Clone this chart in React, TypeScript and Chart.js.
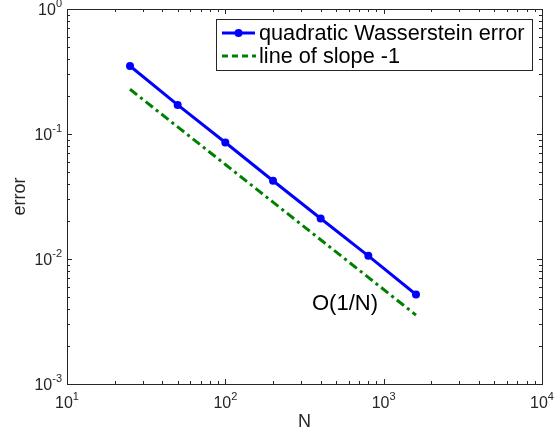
import React, { useEffect, useRef } from "react";
import { Chart, registerables } from "chart.js";

Chart.register(...registerables);

const N = [25, 50, 100, 200, 400, 800, 1600];
const wassersteinError = [0.35, 0.171, 0.0855, 0.0423, 0.0211, 0.0106, 0.0052];
const slopeLine = [0.228, 0.114, 0.057, 0.0285, 0.01425, 0.007125, 0.00356];
const xDecades = [1, 2, 3, 4];
const yDecades = [-3, -2, -1, 0];
const legendLabels = ["quadratic Wasserstein error", "line of slope -1"];
const annotation = "O(1/N)";
const FONT = '"Liberation Sans", Arial, Helvetica, sans-serif';
const AX = "#262626";

function drawPow(ctx: CanvasRenderingContext2D, exp: number, x: number, y: number, align: "right" | "center") {
  ctx.save();
  ctx.fillStyle = AX;
  ctx.textBaseline = "alphabetic";
  ctx.textAlign = "left";
  ctx.font = `16px ${FONT}`;
  const base = "10";
  const bw = ctx.measureText(base).width;
  ctx.font = `11px ${FONT}`;
  const es = String(exp);
  const ew = ctx.measureText(es).width;
  const total = bw + ew;
  const x0 = align === "right" ? x - total : x - total / 2;
  ctx.font = `16px ${FONT}`;
  ctx.fillText(base, x0, y);
  ctx.font = `11px ${FONT}`;
  ctx.fillText(es, x0 + bw, y - 8);
  ctx.restore();
}

const framePlugin = {
  id: "frame",
  afterDraw(chart: any) {
    const { ctx, chartArea: a, scales } = chart;
    const xs = scales.x;
    const ys = scales.y;
    ctx.save();
    ctx.strokeStyle = AX;
    ctx.lineWidth = 1;
    ctx.strokeRect(Math.round(a.left) + 0.5, Math.round(a.top) + 0.5, Math.round(a.right - a.left), Math.round(a.bottom - a.top));
    ctx.beginPath();
    for (let d = 1; d <= 4; d++) {
      for (let m = 1; m <= 9; m++) {
        if (d === 4 && m > 1) break;
        const v = m * Math.pow(10, d);
        const px = Math.round(xs.getPixelForValue(v)) + 0.5;
        const len = m === 1 ? 5 : 3;
        ctx.moveTo(px, a.bottom);
        ctx.lineTo(px, a.bottom - len);
        ctx.moveTo(px, a.top);
        ctx.lineTo(px, a.top + len);
      }
    }
    for (let d = -3; d <= 0; d++) {
      for (let m = 1; m <= 9; m++) {
        if (d === 0 && m > 1) break;
        const v = m * Math.pow(10, d);
        const py = Math.round(ys.getPixelForValue(v)) + 0.5;
        const len = m === 1 ? 5 : 3;
        ctx.moveTo(a.left, py);
        ctx.lineTo(a.left + len, py);
        ctx.moveTo(a.right, py);
        ctx.lineTo(a.right - len, py);
      }
    }
    ctx.stroke();
    ctx.restore();

    xDecades.forEach((d) => drawPow(ctx, d, xs.getPixelForValue(Math.pow(10, d)), a.bottom + 24, "center"));
    yDecades.forEach((d) => drawPow(ctx, d, a.left - 5, ys.getPixelForValue(Math.pow(10, d)) + 6, "right"));

    ctx.save();
    ctx.fillStyle = AX;
    ctx.font = `18px ${FONT}`;
    ctx.textAlign = "center";
    ctx.textBaseline = "middle";
    ctx.fillText("N", (a.left + a.right) / 2, 422);
    ctx.translate(20, (a.top + a.bottom) / 2);
    ctx.rotate(-Math.PI / 2);
    ctx.fillText("error", 0, 0);
    ctx.restore();

    // annotation
    ctx.save();
    ctx.fillStyle = "#000";
    ctx.font = `22px ${FONT}`;
    ctx.textAlign = "left";
    ctx.textBaseline = "middle";
    ctx.fillText(annotation, 312, 304);
    ctx.restore();

    // legend
    ctx.save();
    const lx = 216, ly = 19, lw = 316, lh = 51;
    ctx.fillStyle = "#fff";
    ctx.fillRect(lx, ly, lw, lh);
    ctx.strokeStyle = AX;
    ctx.lineWidth = 1;
    ctx.strokeRect(lx + 0.5, ly + 0.5, lw, lh);
    const rows = [33, 56];
    ctx.lineWidth = 3;
    ctx.strokeStyle = "#0000ff";
    ctx.beginPath();
    ctx.moveTo(222, rows[0]);
    ctx.lineTo(255, rows[0]);
    ctx.stroke();
    ctx.fillStyle = "#0000ff";
    ctx.beginPath();
    ctx.arc(238.5, rows[0], 4, 0, Math.PI * 2);
    ctx.fill();
    ctx.strokeStyle = "#008000";
    ctx.setLineDash([6, 4]);
    ctx.beginPath();
    ctx.moveTo(222, rows[1]);
    ctx.lineTo(256, rows[1]);
    ctx.stroke();
    ctx.setLineDash([]);
    ctx.fillStyle = "#000";
    ctx.font = `21.7px ${FONT}`;
    ctx.textAlign = "left";
    ctx.textBaseline = "middle";
    ctx.fillText(legendLabels[0], 259, rows[0] + 1);
    ctx.fillText(legendLabels[1], 259, rows[1] + 1);
    ctx.restore();
  },
};

export default function App() {
  const ref = useRef<HTMLCanvasElement>(null);
  useEffect(() => {
    if (!ref.current) return;
    const chart = new Chart(ref.current, {
      type: "line",
      data: {
        datasets: [
          {
            label: legendLabels[0],
            data: N.map((n, i) => ({ x: n, y: wassersteinError[i] })),
            borderColor: "#0000ff",
            backgroundColor: "#0000ff",
            borderWidth: 3,
            pointRadius: 4,
            pointBorderWidth: 0,
            pointHoverRadius: 4,
            tension: 0,
          },
          {
            label: legendLabels[1],
            data: N.map((n, i) => ({ x: n, y: slopeLine[i] })),
            borderColor: "#008000",
            backgroundColor: "#008000",
            borderWidth: 3,
            borderDash: [9, 4, 3, 4],
            pointRadius: 0,
            tension: 0,
          },
        ],
      },
      options: {
        animation: false,
        responsive: true,
        maintainAspectRatio: false,
        layout: { padding: { left: 67, top: 9, right: 18, bottom: 49 } },
        plugins: { legend: { display: false }, tooltip: { enabled: false } },
        scales: {
          x: { type: "logarithmic", min: 10, max: 10000, display: false },
          y: { type: "logarithmic", min: 0.001, max: 1, display: false },
        },
      },
      plugins: [framePlugin],
    });
    return () => chart.destroy();
  }, []);
  return (
    <div style={{ position: "fixed", left: 0, top: 0, width: 560, height: 433, background: "#fff" }}>
      <canvas ref={ref} />
    </div>
  );
}
